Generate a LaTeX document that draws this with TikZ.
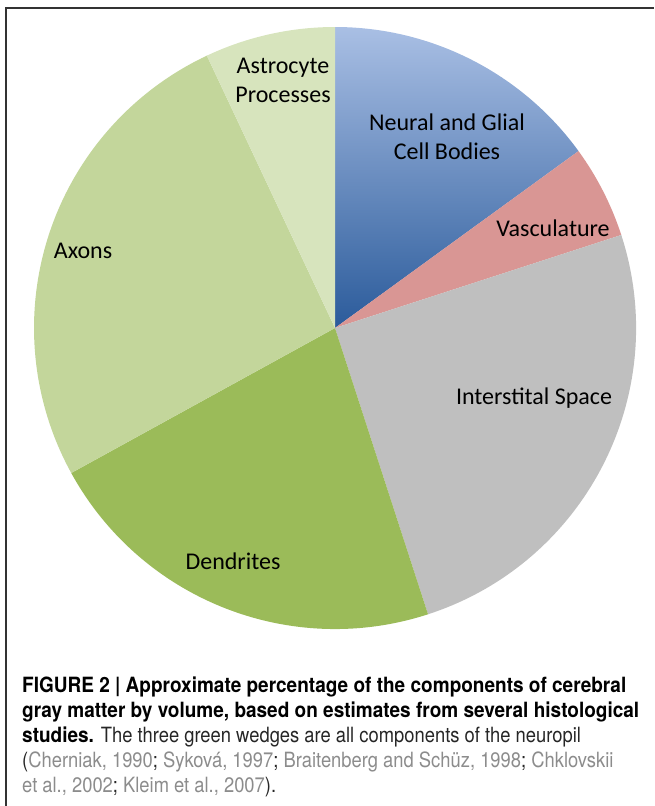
\documentclass[tikz,border=0pt]{standalone}
\usepackage{fontspec}
\setmainfont{Carlito}
\newfontfamily\capfont[FakeStretch=0.875, BoldFeatures={FakeStretch=0.905}]{TeX Gyre Heros}
\usetikzlibrary{positioning}
\definecolor{neuraltop}{HTML}{A9BFE4}
\definecolor{neuralbot}{HTML}{2B5B9B}
\definecolor{vascred}{HTML}{D99694}
\definecolor{intergray}{HTML}{BFBFBF}
\definecolor{dendgreen}{HTML}{9BBB59}
\definecolor{axongreen}{HTML}{C3D69B}
\definecolor{astrogreen}{HTML}{D7E4BD}
\definecolor{citegray}{HTML}{8C8C8C}
\definecolor{captext}{HTML}{262626}
\newcommand{\citegr}[1]{\textcolor{citegray}{#1}}
\tikzset{x=1pt, y=-1pt,
  slicelabel/.style={font=\fontsize{24}{29}\selectfont, align=center, inner sep=0pt},
  frame/.style={line width=1.6pt, black!80}}

\begin{document}
\begin{tikzpicture}
    \useasboundingbox (0,0) rectangle (654,806);
    \draw[frame] (6,806) |- (654,8);
    % pie, percentages 15/5/25/22/26/7
    \begin{scope}[shift={(335,328)}, y=1pt]
        \shade[top color=neuraltop, bottom color=neuralbot] (0,0) -- (90:301) arc[start angle=90, end angle=36, radius=301] -- cycle;
        \fill[vascred] (0,0) -- (36:301) arc[start angle=36, end angle=18, radius=301] -- cycle;
        \fill[intergray] (0,0) -- (18:301) arc[start angle=18, end angle=-72, radius=301] -- cycle;
        \fill[dendgreen] (0,0) -- (-72:301) arc[start angle=-72, end angle=-151.2, radius=301] -- cycle;
        \fill[axongreen] (0,0) -- (-151.2:301) arc[start angle=-151.2, end angle=-244.8, radius=301] -- cycle;
        \fill[astrogreen] (0,0) -- (115.2:301) arc[start angle=115.2, end angle=90, radius=301] -- cycle;
    \end{scope}
    \node[slicelabel] (astro) at (283,80) {Astrocyte\\Processes};
    \node[slicelabel] (neural) at (447,137) {Neural and Glial\\Cell Bodies};
    \node[slicelabel] (vasc) at (553,228) {Vasculature};
    \node[slicelabel] (inter) at (534,398) {Interstital Space};
    \node[slicelabel] (dend) at (233,561) {Dendrites};
    \node[slicelabel] (axons) at (83,251) {Axons};
    \node[anchor=north west, inner sep=0pt, align=left, text=captext,
          font=\capfont\fontsize{21}{24.8}\selectfont] (caption) at (22,677)
        {\textbf{\color{black}FIGURE 2 | Approximate percentage of the components of cerebral}\\
         \textbf{\color{black}gray matter by volume, based on estimates from several histological}\\
         \textbf{\color{black}studies.} The three green wedges are all components of the neuropil\\
         (\citegr{Cherniak, 1990}; \citegr{Syková, 1997}; \citegr{Braitenberg and Schüz, 1998}; \citegr{Chklovskii}\\
         \citegr{et al., 2002}; \citegr{Kleim et al., 2007}).};
\end{tikzpicture}
\end{document}
